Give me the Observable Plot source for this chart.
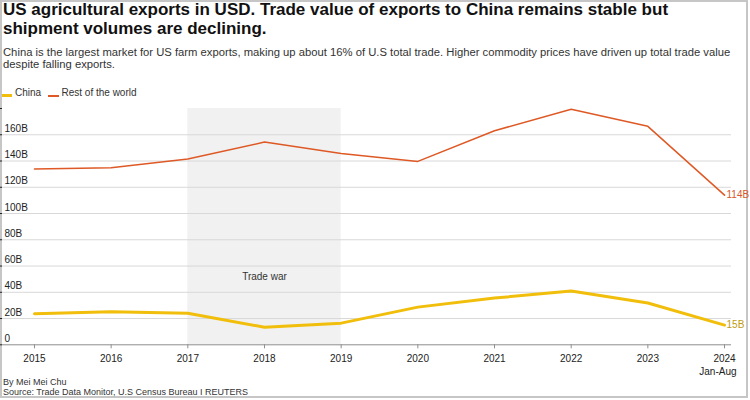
<!DOCTYPE html>
<html>
<head>
<meta charset="utf-8">
<script src="https://cdn.jsdelivr.net/npm/d3@7"></script>
<script src="https://cdn.jsdelivr.net/npm/@observablehq/plot@0.6"></script>
<style>
html, body { margin: 0; padding: 0; background: #fff; }
body { width: 750px; height: 400px; position: relative; overflow: hidden; font-family: "Liberation Sans", Arial, Helvetica, sans-serif; }
#frame { position: absolute; left: 0; top: 0; width: 744px; height: 394px; border: 2px solid #c6c6c6; }
#title { position: absolute; left: 3px; top: 0; font-size: 17px; font-weight: bold; line-height: 19px; color: #111; white-space: nowrap; }
#subtitle { position: absolute; left: 3px; top: 45.7px; font-size: 11.25px; line-height: 12.8px; color: #333; white-space: nowrap; }
.lg-sw { position: absolute; }
.lg-tx { position: absolute; top: 86.5px; font-size: 10px; line-height: 12px; color: #333; white-space: nowrap; }
#chart { position: absolute; left: 0; top: 100px; }
#credit { position: absolute; left: 3px; top: 376.9px; font-size: 9px; line-height: 10px; color: #333; white-space: nowrap; }
</style>
</head>
<body>
<div id="frame"></div>
<div id="title"></div>
<div id="subtitle"></div>
<div id="legend"></div>
<div id="chart"></div>
<div id="credit"></div>
<script>
// ---- Data ----
const years = [2015, 2016, 2017, 2018, 2019, 2020, 2021, 2022, 2023, 2024];
const china = [23.7, 25.2, 24.1, 13.4, 16.5, 28.7, 35.6, 40.9, 31.8, 15];
const restOfWorld = [134.0, 134.8, 141.5, 154.4, 145.8, 139.7, 163.1, 179.4, 166.4, 114];
const seriesNames = ["China", "Rest of the world"];
const endLabels = ["15B", "114B"];
const yTicks = [0, 20, 40, 60, 80, 100, 120, 140, 160];
const tradeWar = { from: 2017, to: 2019, label: "Trade war", labelY: 49 };
const periodNote = "Jan-Aug";
const titleLines = ["US agricultural exports in USD. Trade value of exports to China remains stable but", "shipment volumes are declining."];
const subtitleLines = ["China is the largest market for US farm exports, making up about 16% of U.S total trade. Higher commodity prices have driven up total trade value", "despite falling exports."];
const creditLines = ["By Mei Mei Chu", "Source: Trade Data Monitor, U.S Census Bureau I REUTERS"];

// ---- Styles ----
const colors = { "China": "#F1BE0B", "Rest of the world": "#DE5925" };
const labelColors = { "China": "#BF9B12", "Rest of the world": "#D9562A" };
const widths = { "China": 3, "Rest of the world": 1.5 };

// ---- Text ----
document.getElementById("title").innerHTML = titleLines.join("<br>");
document.getElementById("subtitle").innerHTML = subtitleLines.join("<br>");
document.getElementById("credit").innerHTML = creditLines.join("<br>");

const legend = document.getElementById("legend");
const swatchGeom = [
  { left: 2, top: 94, width: 10, height: 3, textLeft: 15 },
  { left: 48, top: 95, width: 11, height: 2, textLeft: 61.5 }
];
seriesNames.forEach((name, i) => {
  const g = swatchGeom[i];
  const sw = document.createElement("div");
  sw.className = "lg-sw";
  Object.assign(sw.style, { left: g.left + "px", top: g.top + "px", width: g.width + "px", height: g.height + "px", background: colors[name] });
  legend.appendChild(sw);
  const tx = document.createElement("div");
  tx.className = "lg-tx";
  tx.style.left = g.textLeft + "px";
  tx.textContent = name;
  legend.appendChild(tx);
});

// ---- Table ----
const seriesValues = { "China": china, "Rest of the world": restOfWorld };
const rows = seriesNames.flatMap(name => years.map((year, i) => ({ series: name, year, value: seriesValues[name][i] })));
const lastYear = years[years.length - 1];
const lastRows = seriesNames.map((name, i) => ({ series: name, year: lastYear, value: seriesValues[name][years.length - 1], label: endLabels[i] }));

const lineMarks = ["Rest of the world", "China"].map(name =>
  Plot.line(rows.filter(d => d.series === name), {
    x: "year", y: "value", stroke: colors[name], strokeWidth: widths[name],
    strokeLinejoin: "round", strokeLinecap: "round"
  })
);

const chart = Plot.plot({
  width: 750,
  height: 278,
  marginTop: 8,
  marginBottom: 33.7,
  marginLeft: 2,
  marginRight: 19,
  x: { domain: [2014.583, 2024.091] },
  y: { domain: [0, 180] },
  style: { fontFamily: "'Liberation Sans', Arial, sans-serif", fontSize: "10px", color: "#222", overflow: "visible", background: "transparent" },
  marks: [
    Plot.rect([tradeWar], { x1: "from", x2: "to", y1: 0, y2: 180, fill: "#f1f1f1" }),
    Plot.gridY(yTicks.filter(d => d > 0), { stroke: "#d8d8d8", strokeOpacity: 1, strokeWidth: 1 }),
    Plot.text(yTicks, {
      y: d => d, frameAnchor: "left", textAnchor: "start", lineAnchor: "bottom",
      dx: 2, dy: -3, text: d => (d === 0 ? "0" : d + "B"), fill: "#222", fontSize: 10
    }),
    Plot.ruleY([0], { stroke: "#8e8e8e", strokeWidth: 1 }),
    Plot.axisX(years, { tickSize: 4, tickPadding: 6, tickFormat: d => String(d), stroke: "#8e8e8e", fill: "#222", label: null, fontSize: 10 }),
    Plot.text([periodNote], { x: [lastYear], frameAnchor: "bottom", textAnchor: "end", lineAnchor: "bottom", dx: 12, dy: 30, fill: "#222", fontSize: 10 }),
    Plot.text([tradeWar], { x: d => (d.from + d.to) / 2, y: "labelY", text: "label", fill: "#333", lineAnchor: "bottom", fontSize: 10 }),
    ...lineMarks,
    Plot.text(lastRows, { x: "year", y: "value", text: "label", fill: d => labelColors[d.series], textAnchor: "start", dx: 2, fontSize: 10 })
  ]
});
document.getElementById("chart").appendChild(chart);
</script>
</body>
</html>
